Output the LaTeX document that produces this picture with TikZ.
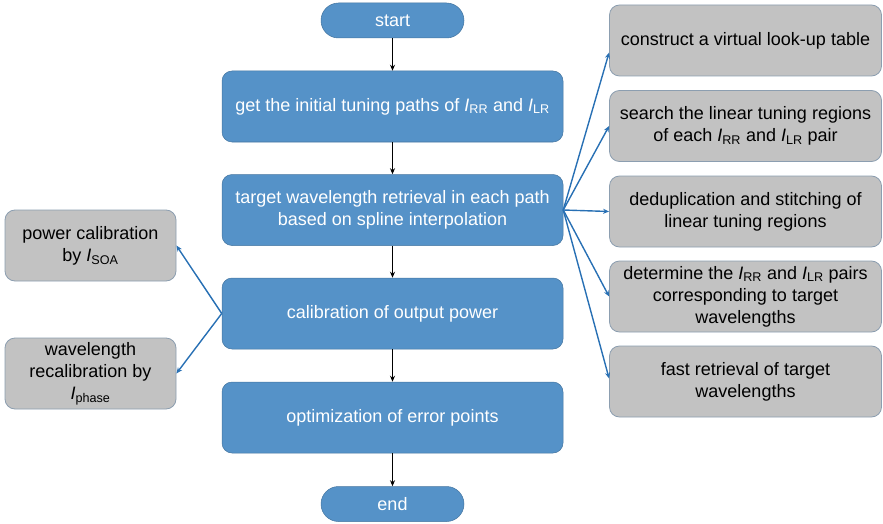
\documentclass[tikz,border=0pt]{standalone}
\usepackage{fontspec}
\setmainfont{Liberation Sans}
\usetikzlibrary{arrows.meta,calc}
\definecolor{boxblue}{RGB}{85,146,200}
\definecolor{boxgray}{RGB}{194,194,194}
\definecolor{graybd}{RGB}{140,158,176}
\definecolor{lineblue}{RGB}{40,112,180}
\newcommand\curI[1]{\textit{I}\textsubscript{#1}}
\begin{document}
\begin{tikzpicture}[x=1pt,y=-1pt,
  txt/.style={font=\fontsize{18}{22}\selectfont, align=center, inner sep=0pt},
  bluebox/.style={txt, draw=boxblue!80!black, line width=0.5pt, fill=boxblue, text=white,
     rounded corners=10pt, minimum width=341pt, minimum height=71pt},
  pill/.style={bluebox, rounded corners=17.5pt, minimum width=143pt, minimum height=35pt},
  graybox/.style={txt, draw=graybd, line width=0.8pt, fill=boxgray, text=black,
     rounded corners=10pt, minimum height=71pt},
  rbox/.style={graybox, minimum width=272pt},
  lbox/.style={graybox, minimum width=171pt},
  flow/.style={draw=black, line width=1.2pt, -{Stealth[length=6pt,width=5pt]}},
  link/.style={draw=lineblue, line width=1.4pt, -{Stealth[length=6pt,width=5pt]}}
]
\useasboundingbox (0,0) rectangle (883,524);

\node[pill] (start) at (392.5,20.5) {start};
\node[bluebox] (b1) at (392.5,106.5) {get the initial tuning paths of \curI{RR} and \curI{LR}};
\node[bluebox] (b2) at (392.5,210) {target wavelength retrieval in each path\\based on spline interpolation};
\node[bluebox] (b3) at (392.5,313.5) {calibration of output power};
\node[bluebox] (b4) at (392.5,417.5) {optimization of error points};
\node[pill] (end) at (392.5,504) {end};

\node[rbox] (r1) at (745.5,40.5) {construct a virtual look-up table};
\node[rbox] (r2) at (745.5,126) {search the linear tuning regions\\of each \curI{RR} and \curI{LR} pair};
\node[rbox] (r3) at (745.5,211.5) {deduplication and stitching of\\linear tuning regions};
\node[rbox] (r4) at (745.5,296.5) {determine the \curI{RR} and \curI{LR} pairs\\corresponding to target\\wavelengths};
\node[rbox] (r5) at (745.5,381.5) {fast retrieval of target\\wavelengths};

\node[lbox] (l1) at (90.5,245.5) {power calibration\\by \curI{SOA}};
\node[lbox] (l2) at (90.5,373.5) {wavelength\\recalibration by\\\curI{phase}};

\draw[flow] (start) -- (b1);
\draw[flow] (b1) -- (b2);
\draw[flow] (b2) -- (b3);
\draw[flow] (b3) -- (b4);
\draw[flow] (b4) -- (end);

\draw[link] (b2.east) -- ($(r1.west)+(0,12)$);
\draw[link] (b2.east) -- (r2.west);
\draw[link] (b2.east) -- (r3.west);
\draw[link] (b2.east) -- (r4.west);
\draw[link] (b2.east) -- ($(r5.west)+(0,-3)$);

\draw[link] (b3.west) -- (l1.east);
\draw[link] (b3.west) -- (l2.east);
\end{tikzpicture}
\end{document}
